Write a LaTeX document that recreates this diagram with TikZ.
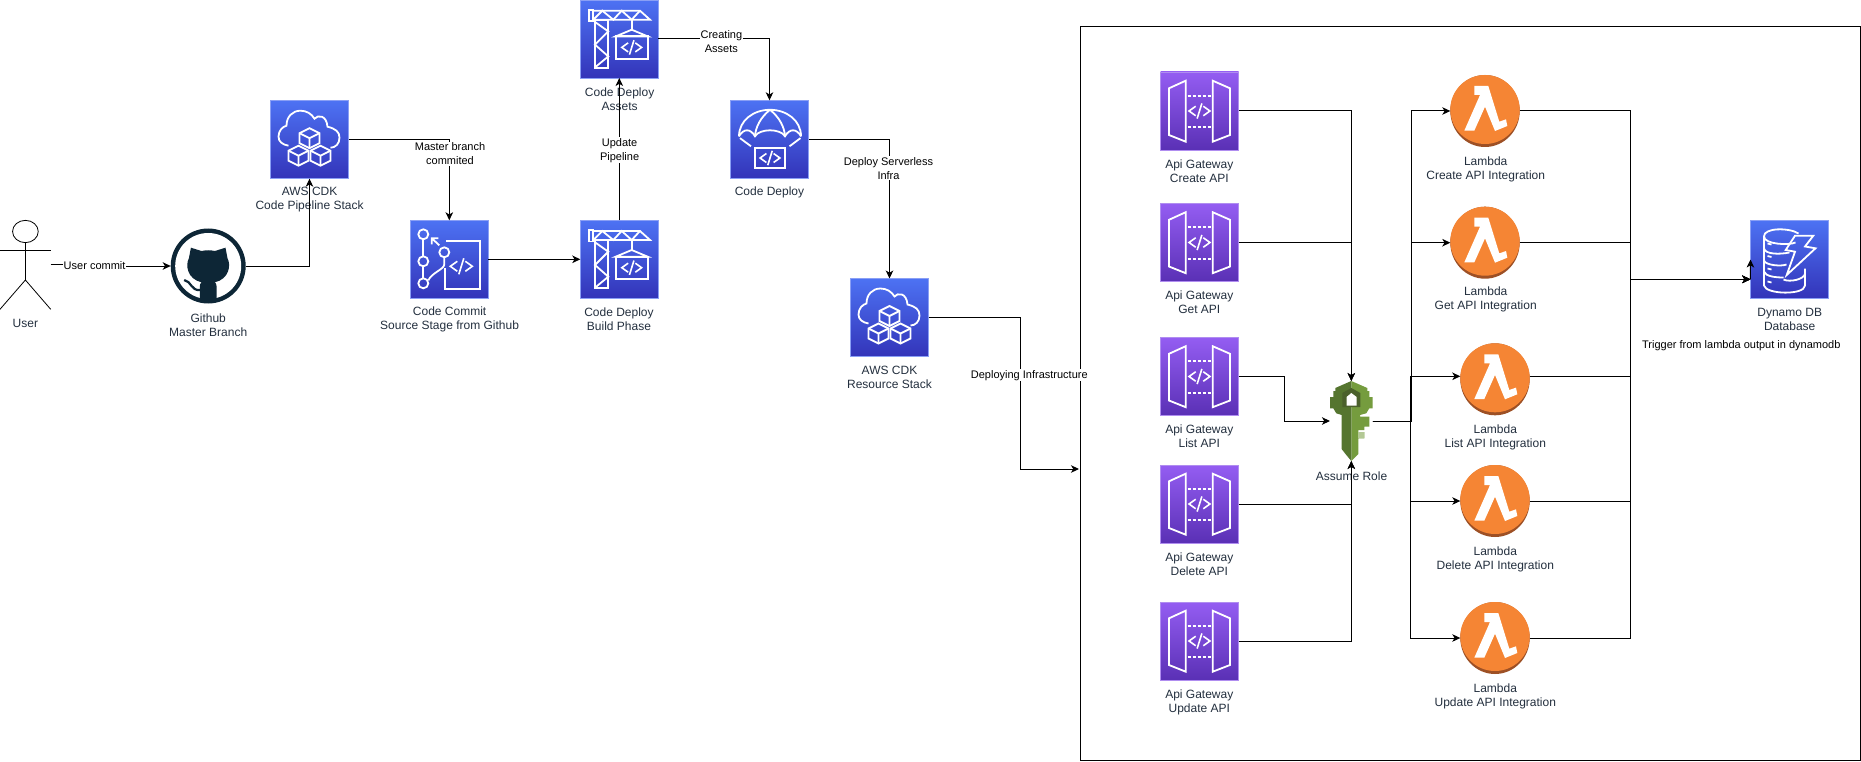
\documentclass[tikz,border=0pt]{standalone}
\usepackage{fontspec}
\setmainfont{Liberation Sans}
\usetikzlibrary{arrows.meta,shapes.geometric}
\definecolor{devtop}{HTML}{4D72F3}
\definecolor{devbot}{HTML}{3334B9}
\definecolor{devedge}{HTML}{8A9FF5}
\definecolor{apitop}{HTML}{945DF2}
\definecolor{apibot}{HTML}{5A30B5}
\definecolor{apiedge}{HTML}{B08DF0}
\definecolor{lamorange}{HTML}{F58534}
\definecolor{lamshade}{HTML}{9D5025}
\definecolor{gitdark}{HTML}{0D2636}
\definecolor{keylight}{HTML}{759C3E}
\definecolor{keymid}{HTML}{55752F}
\definecolor{keydark}{HTML}{4B612C}
\definecolor{capgray}{HTML}{232F3E}
\tikzset{
  conn/.style={draw,line width=1pt,-{Stealth[length=8pt,width=7.5pt,inset=2.2pt]}},
  devtile/.style={rectangle,minimum size=78pt,inner sep=0pt,outer sep=0pt,draw=devedge,line width=.8pt,top color=devtop,bottom color=devbot},
  apitile/.style={rectangle,minimum size=78pt,inner sep=0pt,outer sep=0pt,draw=apiedge,line width=.6pt,top color=apitop,bottom color=apibot},
  lamball/.style={ellipse,minimum width=69.4pt,minimum height=72pt,inner sep=0pt,outer sep=0pt,fill=lamshade},
  gitball/.style={circle,minimum size=75pt,inner sep=0pt,outer sep=0pt,fill=gitdark},
  keybox/.style={rectangle,minimum width=42.7pt,minimum height=80pt,inner sep=0pt,outer sep=0pt},
  head/.style={ellipse,draw,line width=.8pt,minimum width=25.7pt,minimum height=22.3pt,inner sep=0pt,outer sep=0pt},
  stick/.style={draw,line width=.8pt},
  capt/.style={font=\fontsize{12}{14}\selectfont,text=capgray,align=center,inner sep=0pt},
  edgelab/.style={font=\fontsize{11}{14}\selectfont,fill=white,align=center,inner sep=1pt},
  plainlab/.style={font=\fontsize{11}{14}\selectfont,align=center,inner sep=0pt},
  frame/.style={draw,line width=1pt,fill=white},
  icon/.style={draw=white,line width=1.8pt,line join=miter},
  codesym/.pic={
    \draw[icon,line width=1.6pt] (-4,-5) -- (-11,0) -- (-4,5);
    \draw[icon,line width=1.6pt] (4,-5) -- (11,0) -- (4,5);
    \draw[icon,line width=1.6pt] (2.5,-8) -- (-2.5,8);
  },
  hexcube/.pic={
    \draw[icon] (0,-10) -- (10,-5) -- (10,5) -- (0,10) -- (-10,5) -- (-10,-5) -- cycle;
    \draw[icon] (-10,-5) -- (0,0) -- (10,-5) (0,0) -- (0,10);
  },
  cdkicon/.pic={
    \draw[icon] (-21,6) .. controls (-27,5) and (-31,2) .. (-31,-3) .. controls (-31,-9) and (-27,-13) .. (-23,-14) .. controls (-23,-23) and (-17,-29) .. (-9,-29) .. controls (-3,-29) and (2,-26) .. (5,-21) .. controls (8,-25) and (17,-25) .. (18,-13) .. controls (26,-11) and (30,-8) .. (30,-2) .. controls (30,4) and (26,8) .. (21,8);
    \pic at (0,-1.5) {hexcube};
    \pic at (-11,16) {hexcube};
    \pic at (11,16) {hexcube};
  },
  commiticon/.pic={
    \draw[icon] (-26,-25) circle[radius=5] (-26,2) circle[radius=5] (-26,24) circle[radius=5] (-5,-7) circle[radius=5];
    \draw[icon] (-26,-20) -- (-26,-3) (-26,7) -- (-26,19);
    \draw[icon] (-5,-2) -- (-5,5) .. controls (-5,10) and (-17,13) .. (-21,21);
    \draw[icon] (-10,-14) -- (-17.5,-21) (-17.5,-15) -- (-17.5,-21) -- (-11,-21);
    \draw[icon] (-3,-18) -- (30.7,-18) -- (30.7,29.7) -- (-4.5,29.7) -- (-4.5,9);
    \pic at (12,7) {codesym};
  },
  craneicon/.pic={
    \draw[icon] (-24.3,-19.3) rectangle (-11,29);
    \draw[icon] (-24.3,-17) -- (-11,-7.6) -- (-24.3,5.7) -- (-11,17.4) -- (-24.3,28.4);
    \draw[icon] (-30.3,-29.3) rectangle (-26,-17.7);
    \draw[icon] (-26,-28.3) -- (20.7,-28.3) -- (30.7,-19.3) -- (-26,-19.3);
    \draw[icon] (-26,-19.3) -- (-17,-28.3) -- (-6,-19.3) -- (2.4,-28.3) -- (12.4,-19.3) -- (20.7,-28.3);
    \draw[icon] (12.4,-19.3) -- (12.4,-9.3);
    \draw[icon] (-3.6,-2.6) -- (12.4,-9.3) -- (28.4,-2.6) -- cycle;
    \draw[icon] (-3.6,-2.6) rectangle (28.4,19.7);
    \pic[scale=.9] at (12.4,8.4) {codesym};
  },
  chuteicon/.pic={
    \draw[icon] (-30.5,-3) .. controls (-30.5,-19) and (-16,-29.5) .. (.5,-29.5) .. controls (17,-29.5) and (31.5,-19) .. (31.5,-3);
    \draw[icon] (-30.5,-3) .. controls (-26,-11) and (-19,-11) .. (-14.5,-3) .. controls (-10,-11) and (11,-11) .. (15.5,-3) .. controls (20,-11) and (27,-11) .. (31.5,-3);
    \draw[icon] (.5,-29.5) .. controls (-9,-22) and (-14,-12) .. (-14.5,-3) (.5,-29.5) .. controls (10,-22) and (15,-12) .. (15.5,-3);
    \draw[icon] (-29.5,-1.2) -- (-18.5,7) (31,-1.2) -- (20,7);
    \draw[icon] (-14.5,8.5) rectangle (15.5,29);
    \pic[scale=.9] at (.5,18.7) {codesym};
  },
  apiicon/.pic={
    \draw[icon] (-30.5,-22.7) -- (-13.8,-30.3) -- (-13.8,30.7) -- (-30.5,24) -- cycle;
    \draw[icon] (30.5,-22.7) -- (13.2,-30.3) -- (13.2,30.7) -- (30.5,24) -- cycle;
    \draw[icon,dash pattern=on 3pt off 2pt] (-12,-15.3) -- (13,-15.3) (-12,16.3) -- (13,16.3);
    \pic[scale=.95] at (0,0) {codesym};
  },
  lamicon/.pic={
    \fill[lamorange] (0,-1.5) ellipse[x radius=34.7,y radius=34.5];
    \fill[white] (-10.7,-25) -- (3.3,-25) -- (14.3,10.7) -- (21,8.3) -- (22.3,15) -- (10,20) -- (0,-4.3) -- (-10.7,19.7) -- (-20.7,19.7) -- (-5,-16) -- (-10.7,-16) -- cycle;
  },
  octoicon/.pic={
    \fill[white] (0,0) circle[radius=33];
    \begin{scope}
    \clip (0,0) circle[radius=37];
    \fill[gitdark] (-17.3,-18.3) -- (-6.7,-15) .. controls (-2,-16) and (2,-16) .. (6.7,-15) -- (17.3,-18.3) -- (19.3,-7.7) .. controls (23,-1) and (21,13) .. (6.7,16.3) .. controls (9,18) and (8.3,22) .. (8.3,25) -- (8.3,38) -- (-8.3,38) -- (-8.3,25) .. controls (-8.3,22) and (-9,18) .. (-6.7,16.3) .. controls (-21,13) and (-23,-1) .. (-19.3,-7.7) -- cycle;
    \end{scope}
    \draw[gitdark,line width=2.2pt] (-8.3,24) .. controls (-17,25) and (-17,15) .. (-24,14);
  },
  keyicon/.pic={
    \fill[keylight] (0,-40) -- (16,-33) -- (16,-30) -- (18,-30) -- (18,-24) -- (21.3,-24) -- (21.3,-12.7) -- (18,-12.7) -- (15,-7.7) -- (8.7,-6) -- (8.7,-4.3) -- (18,-4.3) -- (18,5.7) -- (13,5.7) -- (13,9) -- (7,9) -- (7,11) -- (13,11) -- (13,17.3) -- (7,17.3) -- (7,33) -- (0,40) -- cycle;
    \fill[keymid] (0,-40) -- (-16,-33) -- (-16,-30) -- (-18,-30) -- (-18,-24) -- (-21.3,-24) -- (-21.3,-12.7) -- (-18,-12.7) -- (-15,-7.7) -- (-9.7,-6) -- (-9.7,28) -- (-5,34) -- (0,40) -- cycle;
    \fill[keydark] (-9,-28) -- (0,-33) -- (9,-28) -- (9,-14) -- (-9,-14) -- cycle;
    \fill[white] (-4.7,-24) -- (0,-28) -- (5.3,-24) -- (5.3,-15.5) -- (-4.7,-15.5) -- cycle;
    \fill[keylight!55!white] (7,11) -- (13,11) -- (13,17.3) -- (7,17.3) -- cycle;
  },
  dynoicon/.pic={
    \draw[icon] (9,-26) .. controls (0,-32) and (-26,-32) .. (-25.5,-23) .. controls (-25.5,-15) and (0,-14) .. (6,-17);
    \draw[icon] (-25.5,-23) -- (-25.5,26);
    \draw[icon] (-25.5,-11) .. controls (-24,-5) and (-10,-5) .. (0,-7);
    \draw[icon] (-25.5,1) .. controls (-24,6) and (-8,7) .. (-3,5);
    \draw[icon] (-25.5,12) .. controls (-24,17) and (-14,18) .. (-6,18);
    \draw[icon] (-25.5,26) .. controls (-24,35) and (15,36) .. (15.5,26) -- (15.5,9);
    \draw[icon] (15.5,14) .. controls (15,20) and (0,23) .. (-6,20);
    \draw[icon] (-22,-16) -- (-18,-15) (-22,-3.5) -- (-18,-2.5) (-22,9) -- (-18,10) (-22,22) -- (-18,23);
    \draw[icon] (5.5,-23.8) -- (23.8,-23.8) -- (15.5,-13) -- (26,-11.2) -- (-2.8,15.5) -- (5.5,-7.8) -- (-3.8,-9.5) -- cycle;
  },
}
\begin{document}
\begin{tikzpicture}[x=1pt,y=-1pt]
\useasboundingbox (0,0) rectangle (1861,762);
\node[frame,rectangle,minimum width=779.5pt,minimum height=733.5pt,inner sep=0pt,outer sep=0pt] (container) at (1470.25,393.25) {};
\node[head] (user) at (25.4,231.5) {};
\coordinate (userhip) at (25.4,280);
\coordinate (armleft) at (0,250);
\coordinate (armright) at (50.7,250);
\coordinate (legleft) at (0,309.3);
\coordinate (legright) at (50.7,309.3);
\coordinate (userout) at (50.7,264.3);
\coordinate (usermid) at (90,266);
\node[gitball] (github) at (208.2,266) {};
\node[devtile] (stackone) at (309.5,139.7) {};
\node[devtile] (commit) at (449.3,259.3) {};
\node[devtile] (build) at (619.3,259.3) {};
\node[devtile] (assets) at (619.3,39) {};
\node[devtile] (deploy) at (769.5,139.3) {};
\node[devtile] (stacktwo) at (889.5,317.5) {};
\node[devtile] (dynamo) at (1789.5,259.5) {};
\node[apitile] (apicreate) at (1199.5,111) {};
\node[apitile] (apiget) at (1199.5,242.5) {};
\node[apitile] (apilist) at (1199.5,376.5) {};
\node[apitile] (apidelete) at (1199.5,504) {};
\node[apitile] (apiupdate) at (1199.5,641) {};
\node[lamball] (lamcreate) at (1485,111) {};
\node[lamball] (lamget) at (1485,242.7) {};
\node[lamball] (lamlist) at (1495,379.3) {};
\node[lamball] (lamdelete) at (1495,501) {};
\node[lamball] (lamupdate) at (1495,638) {};
\node[keybox] (key) at (1351.3,421) {};
\pic at (github) {octoicon};
\pic at (stackone) {cdkicon};
\pic at (stacktwo) {cdkicon};
\pic at (commit) {commiticon};
\pic at (build) {craneicon};
\pic at (assets) {craneicon};
\pic at (deploy) {chuteicon};
\pic at (dynamo) {dynoicon};
\pic at (apicreate) {apiicon};
\pic at (apiget) {apiicon};
\pic at (apilist) {apiicon};
\pic at (apidelete) {apiicon};
\pic at (apiupdate) {apiicon};
\pic at (lamcreate) {lamicon};
\pic at (lamget) {lamicon};
\pic at (lamlist) {lamicon};
\pic at (lamdelete) {lamicon};
\pic at (lamupdate) {lamicon};
\pic at (key) {keyicon};
\node[capt] (usercap) at (25.4,323.2) {User};
\node[capt] (githubcap) at (208.2,325) {Github\\Master Branch};
\node[capt] (stackonecap) at (309.6,199.7) {AWS CDK\\Code Pipeline Stack};
\node[capt] (commitcap) at (449.6,319.5) {Code Commit\\Source Stage from Github};
\node[capt] (buildcap) at (619,319.2) {Code Deploy \\Build Phase};
\node[capt] (assetscap) at (619.6,99.7) {Code Deploy\\Assets};
\node[capt] (deploycap) at (769.5,192.7) {Code Deploy};
\node[capt] (stacktwocap) at (889.5,377) {AWS CDK\\Resource Stack};
\node[capt] (dynamocap) at (1789.7,319.3) {Dynamo DB\\Database};
\node[capt] (apicreatecap) at (1199.3,171.5) {Api Gateway\\Create API};
\node[capt] (apigetcap) at (1199.3,302.7) {Api Gateway\\Get API};
\node[capt] (apilistcap) at (1199.3,436.7) {Api Gateway\\List API};
\node[capt] (apideletecap) at (1199.3,564.7) {Api Gateway\\Delete API};
\node[capt] (apiupdatecap) at (1199.3,702.2) {Api Gateway\\Update API};
\node[capt] (lamcreatecap) at (1485.7,169.2) {Lambda\\Create API Integration};
\node[capt] (lamgetcap) at (1485.7,299.7) {Lambda\\Get API Integration};
\node[capt] (lamlistcap) at (1495.3,437.7) {Lambda\\List API Integration};
\node[capt] (lamdeletecap) at (1495.3,559.7) {Lambda\\Delete API Integration};
\node[capt] (lamupdatecap) at (1495.3,696.7) {Lambda\\Update API Integration};
\node[capt] (keycap) at (1351.5,476) {Assume Role};
\coordinate (infrabend) at (1020.4,469);
\coordinate (infrain) at (1079,469);
\coordinate (listbend) at (1284.3,400);
\coordinate (keybusup) at (1411.7,400);
\coordinate (keybusdown) at (1410.3,421);
\coordinate (busjoin) at (1630.3,279.3);
\coordinate (dynamoin) at (1750.3,279.3);
\draw[stick] (user.south) -- (userhip);
\draw[stick] (armleft) -- (armright);
\draw[stick] (legleft) -- (userhip) -- (legright);
\draw[conn] (userout) -| (usermid) -- (github.west);
\draw[conn] (github.east) -| (stackone.south);
\draw[conn] (stackone.east) -| (commit.north);
\draw[conn] (commit.east) -- (build.west);
\draw[conn] (build.north) -- (assets.south);
\draw[conn] (assets.east) -| (deploy.north);
\draw[conn] (deploy.east) -| (stacktwo.north);
\draw[conn] (stacktwo.east) -| (infrabend) -- (infrain);
\draw[conn] (apicreate.east) -| (key.north);
\draw[conn] (apiget.east) -| (key.north);
\draw[conn] (apilist.east) -| (listbend) |- (key.west);
\draw[conn] (apidelete.east) -| (key.south);
\draw[conn] (apiupdate.east) -| (key.south);
\draw[conn] (key.east) -| (keybusup) |- (lamcreate.west);
\draw[conn] (key.east) -| (keybusup) |- (lamget.west);
\draw[conn] (key.east) -- (keybusdown) |- ([yshift=3pt]lamlist.west);
\draw[conn] (key.east) -- (keybusdown) |- (lamdelete.west);
\draw[conn] (key.east) -- (keybusdown) |- (lamupdate.west);
\draw[conn] (lamcreate.east) -| (busjoin) -- (dynamoin);
\draw[conn] (lamget.east) -| (busjoin) -- (dynamoin);
\draw[conn] ([yshift=3pt]lamlist.east) -| (busjoin) -- (dynamoin);
\draw[conn] (lamdelete.east) -| (busjoin) -- (dynamoin);
\draw[conn] (lamupdate.east) -| (busjoin) -- (dynamoin);
\draw[conn] (dynamoin) -- (dynamo.west);
\node[edgelab] (usercommit) at (94.6,266) {User commit};
\node[edgelab] (masterlab) at (450,154) {Master branch\\ commited};
\node[edgelab] (updatelab) at (619.6,150.2) {Update\\Pipeline};
\node[edgelab] (assetslab) at (721.4,41.3) {Creating\\ Assets};
\node[edgelab] (serverlesslab) at (888.5,168.3) {Deploy Serverless\\Infra};
\node[edgelab] (infralab) at (1029.3,375.3) {Deploying Infrastructure};
\node[plainlab] (triggerlab) at (1741.3,345.3) {Trigger from lambda output in dynamodb};
\end{tikzpicture}
\end{document}
